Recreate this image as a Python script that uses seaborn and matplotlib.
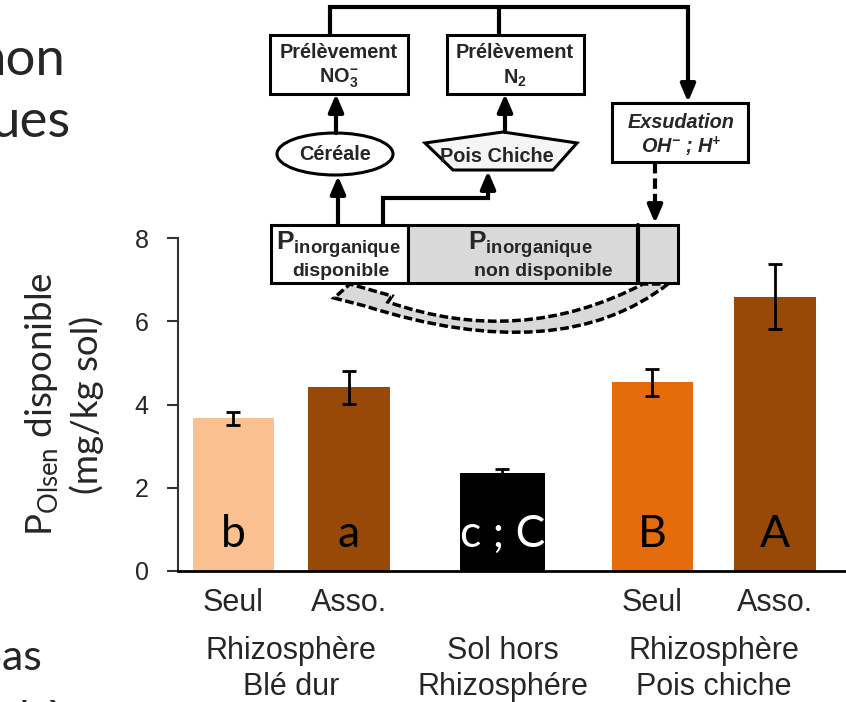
import numpy as np
import pandas as pd
import matplotlib
matplotlib.use("Agg")
import matplotlib.pyplot as plt
import seaborn as sns
from matplotlib.patches import Rectangle, Ellipse, Polygon, PathPatch
from matplotlib.path import Path

# --- data ---
groups = ["Blé dur", "Sol", "Pois chiche"]
group_labels = ["Rhizosphère\nBlé dur", "Sol hors\nRhizosphére", "Rhizosphère\nPois chiche"]
treatments = ["Seul", "Asso."]

ble_means = [3.67, 4.41]
ble_err = [0.16, 0.40]
ble_letters = ["b", "a"]

sol_means = [2.35]
sol_err = [0.11]
sol_letters = ["c ; C"]

pois_means = [4.53, 6.59]
pois_err = [0.33, 0.78]
pois_letters = ["B", "A"]

ble_colors = ["#FAC090", "#984807"]
pois_colors = ["#E46C0A", "#984807"]

df_ble = pd.DataFrame({"groupe": "Blé dur", "traitement": treatments,
                       "P": ble_means, "err": ble_err, "lettre": ble_letters})
df_sol = pd.DataFrame({"groupe": "Sol", "traitement": [""],
                       "P": sol_means, "err": sol_err, "lettre": sol_letters})
df_pois = pd.DataFrame({"groupe": "Pois chiche", "traitement": treatments,
                        "P": pois_means, "err": pois_err, "lettre": pois_letters})
df_all = pd.concat([df_ble, df_sol, df_pois], ignore_index=True)

sns.set_theme(style="ticks")
plt.rcParams["font.family"] = ["Liberation Sans", "DejaVu Sans"]

fig = plt.figure(figsize=(8.46, 7.02), dpi=100)
ax = fig.add_axes([178 / 846, 131 / 702, 668 / 846, 333 / 702])

sns.barplot(data=df_ble, x="groupe", y="P", hue="traitement", order=groups,
            hue_order=treatments, palette=ble_colors, width=1.094, gap=0.295,
            errorbar=None, saturation=1, linewidth=0, legend=False, ax=ax)
sns.barplot(data=df_sol, x="groupe", y="P", order=groups, color="black",
            width=0.398, errorbar=None, saturation=1, linewidth=0, ax=ax)
sns.barplot(data=df_pois, x="groupe", y="P", hue="traitement", order=groups,
            hue_order=treatments, palette=pois_colors, width=1.16, gap=0.331,
            errorbar=None, saturation=1, linewidth=0, legend=False, ax=ax)

# error bars, letters and sub-labels placed from the drawn bars
minor_pos, minor_lab = [], []
for bar in list(ax.patches):
    h = bar.get_height()
    xc = bar.get_x() + bar.get_width() / 2
    row = df_all.loc[np.isclose(df_all["P"], h)].iloc[0]
    ax.errorbar(xc, h, yerr=row["err"], fmt="none", ecolor="black",
                elinewidth=2, capsize=5, capthick=2, zorder=3)
    col = "white" if row["groupe"] == "Sol" else "black"
    ax.text(xc, 0.575, row["lettre"], ha="center", va="baseline", color=col,
            fontsize=32, family="Lato")
    if row["traitement"]:
        minor_pos.append(xc)
        minor_lab.append(row["traitement"])

ax.set_ylim(0, 8)
ax.set_xlim(-0.536, 2.626)
ax.set_yticks([0, 2, 4, 6, 8])
ax.set_xticks(range(3), group_labels)
ax.set_xticks(minor_pos, minor_lab, minor=True)
ax.set_xlabel("")
ax.set_ylabel("P$_\\mathregular{Olsen}$ disponible\n(mg/kg sol)", family="Lato",
              fontsize=26.5, linespacing=1.3)
ax.yaxis.set_label_coords(-0.171, 0.5)
ax.yaxis.label.set_va("center")

ax.tick_params(axis="y", length=8, width=1.5, pad=13, labelsize=18, color="#333333")
ax.tick_params(axis="x", which="both", length=0, labelsize=22)
ax.tick_params(axis="x", which="major", pad=47)
ax.tick_params(axis="x", which="minor", pad=12)
for lab in ax.get_xticklabels():
    lab.set_linespacing(1.27)
sns.despine(ax=ax)
ax.spines["left"].set_linewidth(1.5)
ax.spines["left"].set_color("#333333")
ax.spines["bottom"].set_linewidth(2)
ax.spines["bottom"].set_color("black")

# --- schematic overlay (pixel coordinates) ---
ov = fig.add_axes([0, 0, 1, 1], zorder=5)
ov.set_xlim(0, 846)
ov.set_ylim(702, 0)
ov.axis("off")
ov.patch.set_alpha(0)

def box(x0, y0, x1, y1, fc="white", lw=2.2):
    ov.add_patch(Rectangle((x0, y0), x1 - x0, y1 - y0, fc=fc, ec="black", lw=lw))

def arrow(x0, y0, x1, y1):
    ov.annotate("", xy=(x1, y1), xytext=(x0, y0),
                arrowprops=dict(arrowstyle="-|>,head_length=0.7,head_width=0.3",
                                lw=3, color="black", shrinkA=0, shrinkB=0,
                                mutation_scale=15))

lw_c = 3
ov.plot([330, 330, 688, 688], [35, 7, 7, 90], color="black", lw=lw_c,
        solid_joinstyle="miter")
ov.plot([499, 499], [7, 35], color="black", lw=lw_c)
arrow(688, 85, 688, 102)

box(270, 35, 408, 94)
box(447, 35, 584, 94)
box(612, 103, 748, 162)
bold = dict(ha="center", va="center", fontsize=14.3, fontweight="bold")
ov.text(339, 52, "Prélèvement", **bold)
ov.text(339, 78, "NO$_\\mathregular{3}^\\mathregular{-}$", **bold)
ov.text(515, 52, "Prélèvement", **bold)
ov.text(515, 78, "N$_\\mathregular{2}$", **bold)
ov.text(681, 122, "Exsudation", style="italic", **bold)
ov.text(681, 147, "OH$^\\mathregular{-}$ ; H$^\\mathregular{+}$", style="italic", **bold)

ov.add_patch(Ellipse((335, 154), 116, 42, fc="white", ec="black", lw=2.2))
ov.text(335, 154, "Céréale", **bold)
ov.add_patch(Polygon([(425, 143), (503, 132), (577, 143), (553, 170), (453, 170)],
                     closed=True, fc="#F5F5F5", ec="black", lw=2.2))
ov.text(497, 157, "Pois Chiche", **bold)

arrow(336, 133, 336, 94)
arrow(505, 132, 505, 94)
arrow(338, 225, 338, 176)
ov.plot([383, 383, 488, 488], [225, 198, 198, 185], color="black", lw=lw_c,
        solid_joinstyle="miter")
arrow(488, 190, 488, 171)
ov.plot([655, 655], [163, 208], color="black", lw=lw_c, ls=(0, (2.5, 1.2)))
arrow(655, 205, 655, 223)

box(271, 225, 408, 283)
box(408, 225, 678, 283, fc="#D9D9D9")
ov.plot([638, 638], [225, 283], color="black", lw=3)
ov.text(338, 250, "P$_\\mathregular{inorganique}$", ha="center", va="baseline",
        fontsize=19, fontweight="bold")
ov.text(341, 276, "disponible", ha="center", va="baseline", fontsize=14,
        fontweight="bold")
ov.text(530, 250, "P$_\\mathregular{inorganique}$", ha="center", va="baseline",
        fontsize=19, fontweight="bold")
ov.text(543, 276, "non disponible", ha="center", va="baseline", fontsize=14,
        fontweight="bold")

verts = [(668, 284), (560, 368), (365, 306), (334, 298), (350, 284), (392, 296),
         (388, 302), (520, 348), (643, 284), (668, 284)]
codes = [Path.MOVETO, Path.CURVE3, Path.CURVE3, Path.LINETO, Path.LINETO,
         Path.LINETO, Path.LINETO, Path.CURVE3, Path.CURVE3, Path.CLOSEPOLY]
ov.add_patch(PathPatch(Path(verts, codes), fc="#D9D9D9", ec="black", lw=2.5,
                       ls=(0, (2.5, 1))))

# cut-off slide text at the left
ov.text(65, 75, "non", ha="right", va="baseline", fontsize=38, family="Lato")
ov.text(71, 137, "ues", ha="right", va="baseline", fontsize=38, family="Lato")
ov.text(42, 670, "pas", ha="right", va="baseline", fontsize=31, family="Lato")
ov.text(105, 731, "sphère", ha="right", va="baseline", fontsize=31, family="Lato")

fig.savefig("out.png", dpi=100)
